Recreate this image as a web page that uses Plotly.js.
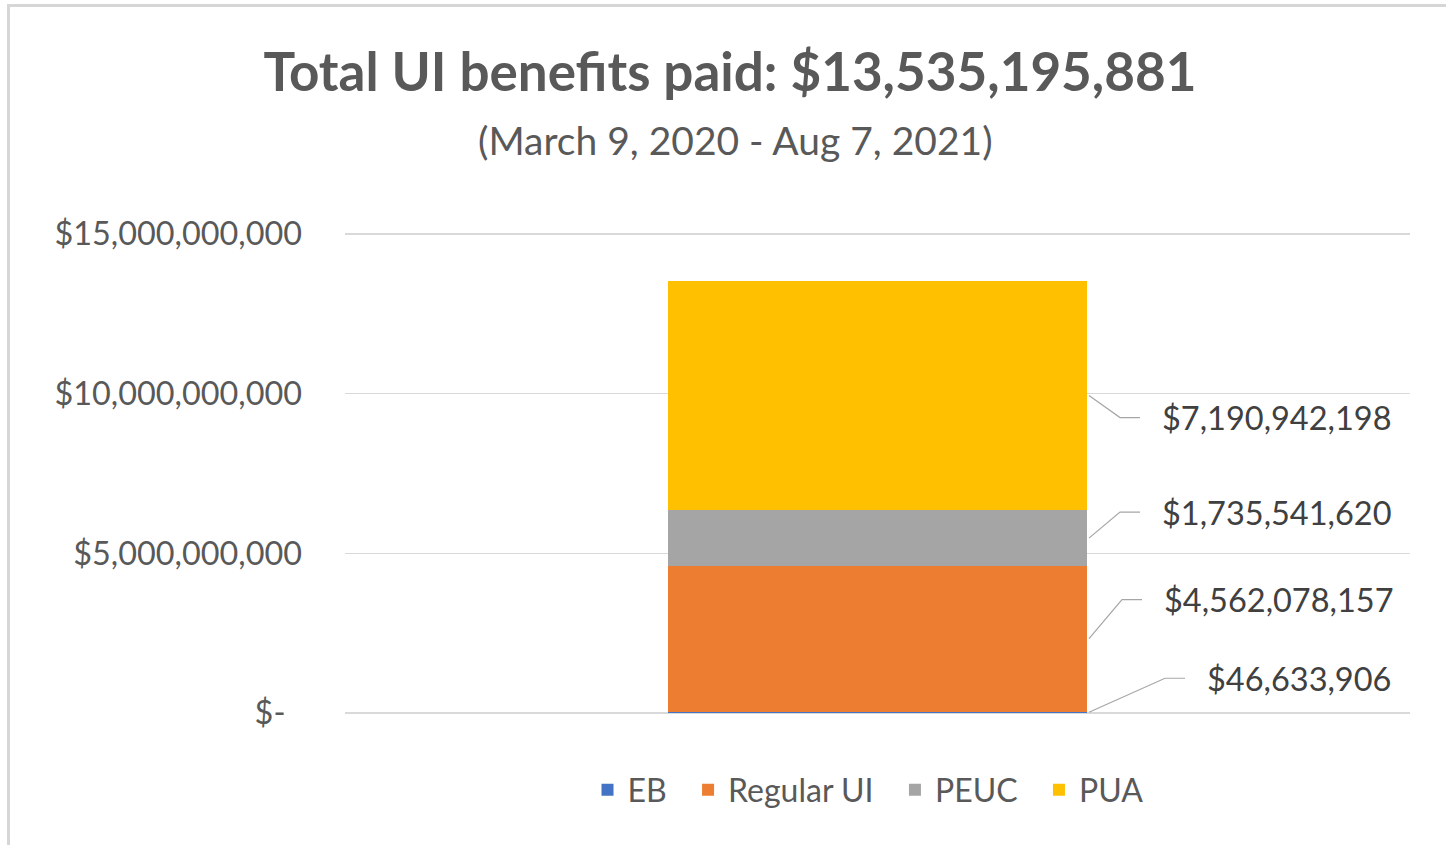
<!DOCTYPE html>
<html>
<head>
<meta charset="utf-8">
<script src="https://cdn.plot.ly/plotly-3.0.1.min.js"></script>
<style>
  html, body { margin: 0; padding: 0; background: #fff; }
  #wrap { position: relative; width: 1446px; height: 845px; overflow: hidden; }
  #chart { position: absolute; left: 0; top: 0; width: 1446px; height: 845px; }
  #frame { position: absolute; left: 7px; top: 4px; width: 1450px; height: 838px;
           border-left: 3px solid #d6d6d6; border-top: 3px solid #d6d6d6; pointer-events: none; }
</style>
</head>
<body>
<div id="wrap"><div id="chart"></div><div id="frame"></div></div>
<script>
// ---- data ----
const seriesNames = ['EB', 'Regular UI', 'PEUC', 'PUA'];
const seriesValues = [46633906, 4562078157, 1735541620, 7190942198];
const seriesColors = ['#4472C4', '#ED7D31', '#A5A5A5', '#FFC000'];
const category = ['Total'];
const yTickValues = [0, 5000000000, 10000000000, 15000000000];
const titleText = 'Total UI benefits paid: $';
const subtitleText = '(March 9, 2020 - Aug 7, 2021)';

// ---- layout constants (px) ----
const W = 1446, H = 845;
const M = { l: 345, r: 36, t: 230, b: 132 };
const plotW = W - M.l - M.r, plotH = H - M.t - M.b;
const yMax = 15000000000;
const gridH = 479; // px from 0 to yMax
const yTop = yMax * plotH / gridH;
const bargap = 0.6066;
// label layout: vertical shift of label vs. segment middle (px, +down), elbow x (px)
const labelShift = [-34, -39, -26, 22];
const elbowX = [1165, 1122, 1120, 1120];
const leaderLen = 20, labelGap = 20;
const NB = '\u00A0';

const fmt = v => '$' + v.toLocaleString('en-US');
const total = seriesValues.reduce((a, b) => a + b, 0);

const xFromPx = px => -0.5 + (px - M.l) / plotW;
const yPerPx = yTop / plotH;

const traces = seriesNames.map((n, i) => ({
  type: 'bar', name: n + (i < seriesNames.length - 1 ? NB + NB : ''),
  x: category.map((c, k) => k), y: [seriesValues[i]],
  marker: { color: seriesColors[i] }, hoverinfo: 'skip'
}));

const barRight = 0.5 - bargap / 2;
const shapes = [], annotations = [];
let cum = 0;
seriesValues.forEach((v, i) => {
  const mid = cum + v / 2; cum += v;
  const ly = mid - labelShift[i] * yPerPx;
  const xStart = barRight + 2 / plotW;
  const xe = xFromPx(elbowX[i]);
  const xend = xFromPx(elbowX[i] + leaderLen);
  shapes.push({ type: 'path', xref: 'x', yref: 'y',
    path: `M ${xStart} ${mid} L ${xe} ${ly} L ${xend} ${ly}`,
    line: { color: '#a6a6a6', width: 1.2 } });
  annotations.push({ xref: 'x', yref: 'y', x: xFromPx(elbowX[i] + leaderLen + labelGap), y: ly,
    xanchor: 'left', yanchor: 'middle', showarrow: false, text: fmt(v),
    font: { family: 'Lato, sans-serif', size: 32.5, color: '#404040' } });
});

annotations.push({ xref: 'paper', yref: 'paper', x: (735 - M.l) / plotW, y: (H - M.b - 140) / plotH,
  xanchor: 'center', yanchor: 'middle', showarrow: false, text: subtitleText,
  font: { family: 'Lato, sans-serif', size: 39, color: '#595959' } });

const layout = {
  width: W, height: H,
  margin: M,
  paper_bgcolor: '#ffffff', plot_bgcolor: '#ffffff',
  barmode: 'stack', bargap: bargap,
  title: { text: '<b>' + titleText + total.toLocaleString('en-US') + '</b>',
    x: 730 / W, xref: 'container', xanchor: 'center', y: 1 - 72 / H, yref: 'container', yanchor: 'middle',
    font: { family: 'Lato, sans-serif', size: 53, color: '#595959' } },
  xaxis: { range: [-0.5, 0.5], showticklabels: false, showgrid: false, zeroline: false,
    showline: false, ticks: '', fixedrange: true },
  yaxis: { range: [0, yTop], tickvals: yTickValues,
    ticktext: yTickValues.map(v => v === 0 ? '$-' + NB + NB : fmt(v)),
    showgrid: true, gridcolor: '#d9d9d9', gridwidth: 1.3, zeroline: true, zerolinecolor: '#d9d9d9',
    zerolinewidth: 1.3, showline: false, ticks: '', ticklabelstandoff: 42,
    tickfont: { family: 'Lato, sans-serif', size: 32.4, color: '#595959' }, fixedrange: true },
  showlegend: true,
  legend: { orientation: 'h', x: (868 - M.l) / plotW, xanchor: 'center', xref: 'paper',
    y: -(790 - (H - M.b)) / plotH, yanchor: 'middle', traceorder: 'normal',
    font: { family: 'Lato, sans-serif', size: 32, color: '#595959' }, itemwidth: 30 },
  shapes: shapes, annotations: annotations
};

Plotly.newPlot('chart', traces, layout, { displayModeBar: false, staticPlot: true });
</script>
</body>
</html>
